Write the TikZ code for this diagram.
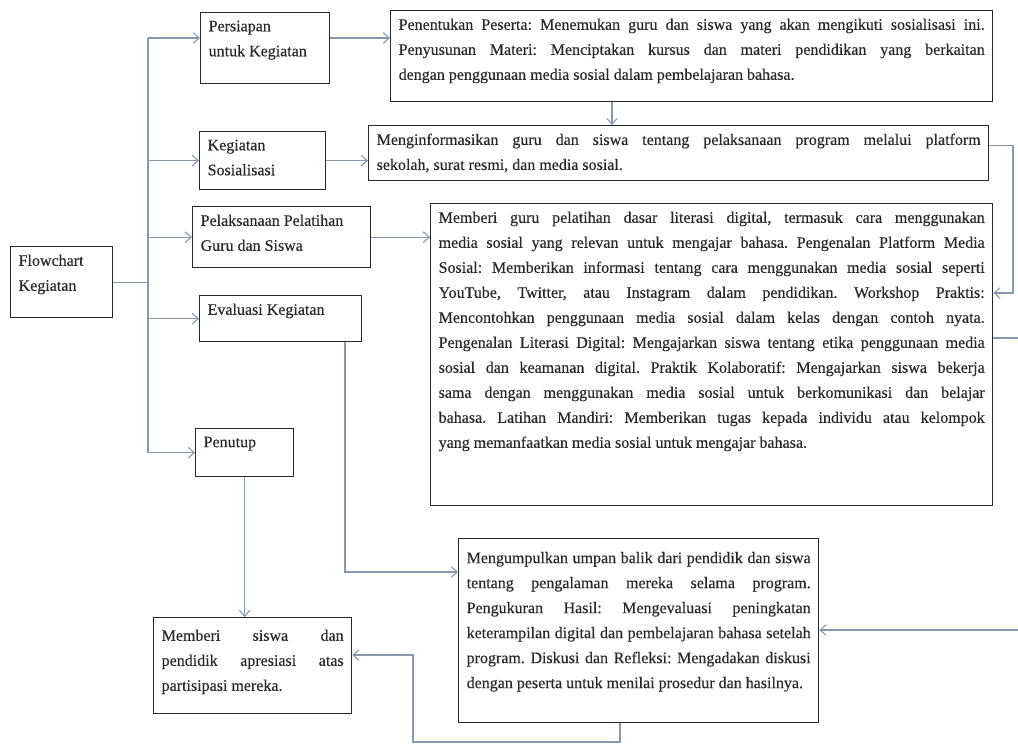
\documentclass[tikz,border=0pt]{standalone}
\usepackage{fontspec}
\setmainfont{Liberation Serif}[FakeBold=0.3]
\usepackage{tikz}
\usetikzlibrary{arrows.meta}
\definecolor{panah}{RGB}{135,152,170}
\definecolor{tinta}{RGB}{40,40,40}
\tikzset{>={Straight Barb[length=4.5pt,width=8pt]}}
\tikzset{kotak/.style={draw=tinta, line width=1pt, anchor=north west, inner xsep=6pt, inner ysep=6pt, text=tinta, font=\fontsize{12}{18.75}\selectfont}}
\newcommand{\isi}[3]{\parbox[t][#2][t]{#1}{\frenchspacing\tolerance=10000\hbadness=10000 #3}}

\begin{document}
\begin{tikzpicture}[x=0.75pt, y=-0.75pt, panah, line width=0.8pt]
	\useasboundingbox (0,0) rectangle (1018,746);

	% kotak kiri
	\node[kotak] (flow) at (10,246) {\isi{64.5pt}{41.25pt}{\raggedright Flowchart\\Kegiatan}};
	\node[kotak] (persiapan) at (200,12) {\isi{84.75pt}{41.25pt}{\raggedright Persiapan\\untuk Kegiatan}};
	\node[kotak] (sosialisasi) at (199,131) {\isi{82.5pt}{31.5pt}{\raggedright Kegiatan\\Sosialisasi}};
	\node[kotak] (pelatihan) at (192,206) {\isi{121.5pt}{33.75pt}{\raggedright Pelaksanaan Pelatihan\\Guru dan Siswa}};
	\node[kotak] (evaluasi) at (199,295) {\isi{109.5pt}{22.5pt}{\raggedright Evaluasi Kegiatan}};
	\node[kotak] (penutup) at (195,428) {\isi{61.5pt}{24pt}{\raggedright Penutup}};
	\node[kotak] (apresiasi) at (153,617) {\isi{136.5pt}{60pt}{\vspace*{3pt}Memberi siswa dan\linebreak pendidik apresiasi atas\linebreak partisipasi mereka.}};

	% kotak kanan
	\node[kotak] (penentuan) at (390,10) {\isi{439.5pt}{56.25pt}{Penentukan Peserta: Menemukan guru dan siswa yang akan mengikuti sosialisasi ini.\linebreak Penyusunan Materi: Menciptakan kursus dan materi pendidikan yang berkaitan\linebreak dengan penggunaan media sosial dalam pembelajaran bahasa.}};
	\node[kotak] (informasi) at (368,125) {\isi{453pt}{29.25pt}{Menginformasikan guru dan siswa tentang pelaksanaan program melalui platform\linebreak sekolah, surat resmi, dan media sosial.}};
	\node[kotak] (materi) at (430,203) {\isi{409.5pt}{214.5pt}{Memberi guru pelatihan dasar literasi digital, termasuk cara menggunakan\linebreak media sosial yang relevan untuk mengajar bahasa. Pengenalan Platform Media\linebreak Sosial: Memberikan informasi tentang cara menggunakan media sosial seperti\linebreak YouTube, Twitter, atau Instagram dalam pendidikan. Workshop Praktis:\linebreak Mencontohkan penggunaan media sosial dalam kelas dengan contoh nyata.\linebreak Pengenalan Literasi Digital: Mengajarkan siswa tentang etika penggunaan media\linebreak sosial dan keamanan digital. Praktik Kolaboratif: Mengajarkan siswa bekerja\linebreak sama dengan menggunakan media sosial untuk berkomunikasi dan belajar\linebreak bahasa. Latihan Mandiri: Memberikan tugas kepada individu atau kelompok\linebreak yang memanfaatkan media sosial untuk mengajar bahasa.}};
	\node[kotak] (umpan) at (458,538) {\isi{258pt}{126pt}{\vspace*{4pt}Mengumpulkan umpan balik dari pendidik dan siswa\linebreak tentang pengalaman mereka selama program.\linebreak Pengukuran Hasil: Mengevaluasi peningkatan\linebreak keterampilan digital dan pembelajaran bahasa setelah\linebreak program. Diskusi dan Refleksi: Mengadakan diskusi\linebreak dengan peserta untuk menilai prosedur dan hasilnya.}};

	% batang utama
	\coordinate (t1) at (148,38);
	\draw (flow.east) -- (flow.east -| t1);
	\draw (t1) -- (t1 |- penutup.west);
	\draw[->] (t1) -- (t1 -| persiapan.west);
	\draw[->] (t1 |- sosialisasi.west) -- (sosialisasi.west);
	\draw[->] (t1 |- pelatihan.west) -- (pelatihan.west);
	\draw[->] (t1 |- evaluasi.west) -- (evaluasi.west);
	\draw[->] (t1 |- penutup.west) -- (penutup.west);

	% ke kanan
	\draw[->] (persiapan.east |- t1) -- (penentuan.west |- t1);
	\draw[->] (sosialisasi.east) -- (sosialisasi.east -| informasi.west);
	\draw[->] (pelatihan.east) -- (pelatihan.east -| materi.west);

	\coordinate (p1) at (612,101);
	\draw[->] (p1 |- penentuan.south) -- (p1 |- informasi.north);

	\coordinate (k1) at (1013,293);
	\draw[->] ([yshift=6pt]informasi.east) -| (k1) -- (k1 -| materi.east);

	\coordinate (k2) at (1026,338);
	\coordinate (k3) at (1026,630);
	\draw[->] (k2 -| materi.east) -- (k2) -- (k3) -- (k3 -| umpan.east);

	\coordinate (k4) at (345,572);
	\draw[->] (evaluasi.south -| k4) -- (k4) -- (k4 -| umpan.west);

	\draw[->] (penutup.south) -- (penutup.south |- apresiasi.north);

	\coordinate (k5) at (620,742);
	\coordinate (k6) at (413,655);
	\draw[->] (umpan.south -| k5) -- (k5) -| (k6) -- (k6 -| apresiasi.east);
\end{tikzpicture}
\end{document}
